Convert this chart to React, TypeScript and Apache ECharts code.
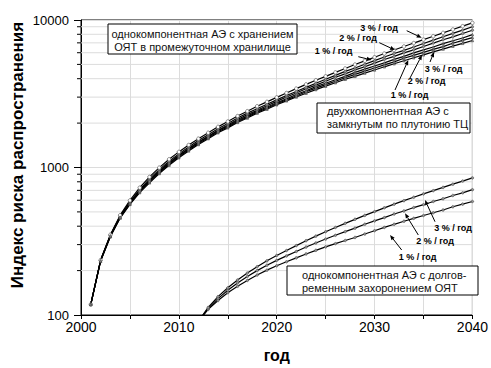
import React, { useEffect, useRef } from 'react';
import * as echarts from 'echarts';

// years of the upper group
const years = [2001, 2002, 2003, 2004, 2005, 2006, 2007, 2008, 2009, 2010,
  2011, 2012, 2013, 2014, 2015, 2016, 2017, 2018, 2019, 2020,
  2021, 2022, 2023, 2024, 2025, 2026, 2027, 2028, 2029, 2030,
  2031, 2032, 2033, 2034, 2035, 2036, 2037, 2038, 2039, 2040];

// однокомпонентная АЭ с хранением ОЯТ (3, 2, 1 %/год)
const storage3 = [118, 235, 350, 475, 598, 730, 863, 998, 1137, 1276,
  1421, 1569, 1720, 1886, 2051, 2232, 2409, 2602, 2787, 2987,
  3199, 3426, 3660, 3904, 4150, 4413, 4692, 4989, 5287, 5595,
  5922, 6257, 6612, 6977, 7360, 7766, 8181, 8620, 9081, 9565];
const storage2 = [118, 235, 347, 468, 584, 708, 837, 968, 1103, 1237,
  1378, 1522, 1668, 1829, 1989, 2165, 2336, 2504, 2682, 2875,
  3079, 3272, 3496, 3729, 3964, 4215, 4481, 4729, 5011, 5303,
  5613, 5930, 6219, 6562, 6923, 7304, 7695, 8108, 8541, 8997];
const storage1 = [118, 235, 345, 464, 576, 697, 818, 946, 1078, 1209,
  1347, 1487, 1630, 1788, 1944, 2115, 2283, 2447, 2621, 2809,
  3009, 3198, 3416, 3616, 3844, 4088, 4313, 4586, 4823, 5104,
  5402, 5664, 5985, 6268, 6612, 6976, 7349, 7684, 8095, 8527];

// двухкомпонентная АЭ с замкнутым по плутонию ТЦ (3, 2, 1 %/год)
const twoComp3 = [118, 233, 345, 461, 571, 692, 812, 939, 1069, 1200,
  1337, 1476, 1618, 1774, 1914, 2083, 2231, 2410, 2562, 2746,
  2918, 3125, 3313, 3534, 3728, 3934, 4151, 4414, 4641, 4874,
  5120, 5410, 5673, 5986, 6266, 6562, 6912, 7228, 7556, 7959];
const twoComp2 = [118, 233, 342, 457, 567, 687, 799, 924, 1053, 1182,
  1316, 1453, 1593, 1747, 1885, 2052, 2197, 2373, 2523, 2704,
  2874, 3054, 3263, 3454, 3643, 3845, 4057, 4280, 4501, 4727,
  4965, 5206, 5502, 5761, 6031, 6315, 6602, 6956, 7272, 7601];
const twoComp1 = [118, 231, 339, 454, 562, 676, 787, 910, 1037, 1164,
  1296, 1431, 1569, 1720, 1857, 2020, 2164, 2337, 2485, 2663,
  2830, 3008, 3189, 3375, 3561, 3757, 3964, 4151, 4366, 4585,
  4816, 5049, 5295, 5545, 5804, 6078, 6354, 6644, 6946, 7260];

// однокомпонентная АЭ с долговременным захоронением ОЯТ
const burialYears = [2012, 2013, 2014, 2015, 2016, 2017, 2018, 2019, 2020,
  2021, 2022, 2023, 2024, 2025, 2026, 2027, 2028, 2029, 2030,
  2031, 2032, 2033, 2034, 2035, 2036, 2037, 2038, 2039, 2040];
const burial3 = [90.8, 112.5, 133.2, 152.9, 172.8, 192.4, 212.5, 233.0, 253.4,
  273.6, 295.4, 319.0, 342.6, 367.2, 392.2, 418.3, 445.3, 473.4, 502.6,
  532.9, 564.0, 596.0, 628.5, 662.2, 696.5, 732.6, 770.6, 809.3, 850.0];
const burial2 = [90.8, 110.8, 129.2, 147.2, 165.0, 182.4, 199.9, 217.5, 234.7,
  251.5, 269.5, 288.8, 307.8, 327.3, 347.0, 367.2, 387.9, 412.4, 434.5,
  457.2, 483.9, 507.4, 535.1, 559.5, 588.5, 614.3, 646.1, 673.4, 707.3];
const burial1 = [90.8, 109.1, 125.3, 141.6, 156.4, 171.5, 186.6, 201.4, 215.7,
  229.4, 243.9, 259.4, 274.4, 289.6, 304.6, 319.9, 335.4, 353.9, 372.8,
  392.3, 412.0, 432.0, 452.1, 472.7, 493.4, 515.0, 541.8, 564.6, 588.5];

// minor log grid values
const minorYValues = [200, 300, 400, 500, 600, 700, 800, 900,
  2000, 3000, 4000, 5000, 6000, 7000, 8000, 9000];

const FONT = '"Liberation Sans", Arial, Helvetica, sans-serif';

function pair(xs: number[], ys: number[]) {
  return xs.map((x, i) => [x, ys[i]]);
}

function arrow(x1: number, y1: number, x2: number, y2: number) {
  const ang = Math.atan2(y2 - y1, x2 - x1);
  const L = 5, W = 2;
  const bx = x2 - L * Math.cos(ang), by = y2 - L * Math.sin(ang);
  const px = -Math.sin(ang) * W, py = Math.cos(ang) * W;
  return [
    { type: 'line', silent: true, z: 100, shape: { x1, y1, x2: bx, y2: by }, style: { stroke: '#000', lineWidth: 1 } },
    { type: 'polygon', silent: true, z: 100, shape: { points: [[x2, y2], [bx + px, by + py], [bx - px, by - py]] }, style: { fill: '#000' } },
  ];
}

function pctLabel(text: string, x: number, y: number) {
  return {
    type: 'text', silent: true, z: 100, x, y,
    style: { text, fill: '#000', font: `bold 9px ${FONT}`, align: 'center', verticalAlign: 'middle' },
  };
}

function box(x: number, y: number, w: number, h: number, text: string, tx: number, ty: number, align: string) {
  return [
    { type: 'rect', silent: true, z: 100, shape: { x, y, width: w, height: h }, style: { fill: '#fff', stroke: '#000', lineWidth: 1 } },
    {
      type: 'text', silent: true, z: 101, x: tx, y: ty,
      style: { text, fill: '#111', font: `11px ${FONT}`, align, verticalAlign: 'middle', lineHeight: 13 },
    },
  ];
}

function lineSeries(name: string, xs: number[], ys: number[], symbol: string, size: number, fill: string) {
  return {
    name, type: 'line', data: pair(xs, ys), clip: true,
    symbol, symbolSize: size, showSymbol: true,
    lineStyle: { color: '#000', width: 1.2 },
    itemStyle: { color: fill, borderColor: '#444', borderWidth: 0.6 },
    z: 3,
  };
}

export default function App() {
  const ref = useRef<HTMLDivElement>(null);
  useEffect(() => {
    const chart = echarts.init(ref.current!, null, { renderer: 'svg' });
    const graphic: any[] = [
      ...box(108, 24, 189, 30, 'однокомпонентная АЭ с хранением\nОЯТ в промежуточном хранилище', 202.5, 40, 'center'),
      ...box(317, 103, 153, 30, 'двухкомпонентная АЭ с\nзамкнутым по плутонию ТЦ', 327, 117.5, 'left'),
      ...box(287, 266, 191, 29, 'однокомпонентная АЭ с долгов-\nременным захоронением ОЯТ', 302, 281.5, 'left'),
      pctLabel('3 % / год', 379, 27.5),
      pctLabel('2 % / год', 358, 37.5),
      pctLabel('1 % / год', 333.5, 51),
      ...arrow(406.7, 30.7, 421.7, 37.7),
      ...arrow(379.3, 42.7, 395, 50),
      ...arrow(358.3, 56.7, 371.7, 60),
      pctLabel('3 % / год', 443.7, 69),
      pctLabel('2 % / год', 426.5, 81),
      pctLabel('1 % / год', 409.5, 94.5),
      ...arrow(430, 62, 434, 52),
      ...arrow(410, 78, 422, 55),
      ...arrow(395, 90, 408.3, 60),
      pctLabel('3 % / год', 453, 228),
      pctLabel('2 % / год', 435, 241),
      pctLabel('1 % / год', 417.5, 257),
      ...arrow(435, 221.7, 425, 200),
      ...arrow(418.3, 235, 405, 213.3),
      ...arrow(401.7, 250, 390, 235),
      {
        type: 'text', silent: true, x: 17, y: 155, rotation: Math.PI / 2,
        style: { text: 'Индекс риска распространения', fill: '#000', font: `bold 17px ${FONT}`, align: 'center', verticalAlign: 'middle' },
      },
    ];
    chart.setOption({
      animation: false,
      backgroundColor: '#fff',
      grid: { left: 81, right: 12, top: 20, bottom: 47, show: true, borderColor: '#000', borderWidth: 1, backgroundColor: 'transparent' },
      xAxis: {
        type: 'value', min: 2000, max: 2040, interval: 10,
        axisLine: { show: true, lineStyle: { color: '#000', width: 1 } },
        axisTick: { show: true, length: 4, lineStyle: { color: '#000' } },
        minorTick: { show: true, splitNumber: 2, length: 4, lineStyle: { color: '#000' } },
        splitLine: { show: true, lineStyle: { color: '#dcdcdc', width: 1 } },
        minorSplitLine: { show: true, lineStyle: { color: '#dcdcdc', width: 1 } },
        axisLabel: { color: '#000', fontSize: 14, fontFamily: FONT, margin: 5, formatter: (v: number) => String(v) },
        name: 'год', nameLocation: 'middle', nameGap: 32,
        nameTextStyle: { color: '#000', fontSize: 16, fontWeight: 'bold', fontFamily: FONT },
      },
      yAxis: {
        type: 'log', logBase: 10, min: 100, max: 10000,
        axisLine: { show: true, lineStyle: { color: '#000', width: 1 } },
        axisTick: { show: true, length: 7, lineStyle: { color: '#000' } },
        splitLine: { show: true, lineStyle: { color: '#dcdcdc', width: 1 } },
        axisLabel: { color: '#000', fontSize: 13, fontFamily: FONT, margin: 12, formatter: (v: number) => String(Math.round(v)) },
      },
      graphic,
      series: [
        {
          type: 'custom', coordinateSystem: 'cartesian2d', silent: true, z: 1,
          data: minorYValues.map((v) => [2000, v]),
          encode: { x: 0, y: 1 },
          renderItem: (_params: any, api: any) => {
            const v = api.value(1);
            const p0 = api.coord([2000, v]);
            const p1 = api.coord([2040, v]);
            return {
              type: 'group',
              children: [
                { type: 'line', shape: { x1: p0[0], y1: p0[1], x2: p1[0], y2: p1[1] }, style: { stroke: '#dcdcdc', lineWidth: 1 } },
                { type: 'line', shape: { x1: p0[0] - 4, y1: p0[1], x2: p0[0], y2: p0[1] }, style: { stroke: '#000', lineWidth: 1 } },
              ],
            };
          },
        },
        lineSeries('хранение 1 %', years, storage1, 'circle', 2.5, '#999'),
        lineSeries('хранение 2 %', years, storage2, 'circle', 2.5, '#999'),
        lineSeries('хранение 3 %', years, storage3, 'circle', 3.5, '#fff'),
        lineSeries('ТЦ 1 %', years, twoComp1, 'triangle', 2.5, '#999'),
        lineSeries('ТЦ 2 %', years, twoComp2, 'triangle', 2.5, '#999'),
        lineSeries('ТЦ 3 %', years, twoComp3, 'triangle', 2.5, '#999'),
        lineSeries('захоронение 1 %', burialYears, burial1, 'circle', 2.5, '#999'),
        lineSeries('захоронение 2 %', burialYears, burial2, 'circle', 2.5, '#999'),
        lineSeries('захоронение 3 %', burialYears, burial3, 'circle', 2.5, '#999'),
      ],
    });
    return () => chart.dispose();
  }, []);
  return <div ref={ref} style={{ position: 'fixed', left: 0, top: 0, width: 491, height: 368 }} />;
}
